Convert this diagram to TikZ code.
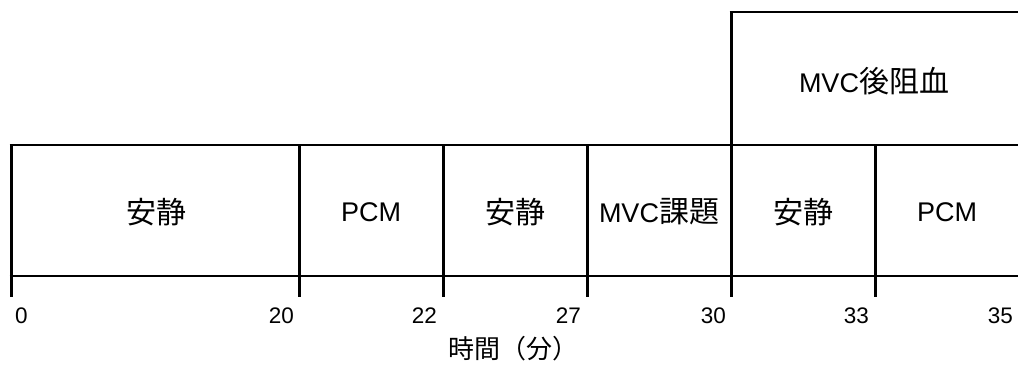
\documentclass[tikz,border=0pt]{standalone}
\usepackage{fontspec}
\setmainfont{Liberation Sans}
\newfontfamily\cjk{Noto Sans CJK JP}
\begin{document}
\begin{tikzpicture}[x=1pt,y=-1pt,
  hrule/.style={line width=2.6pt},
  vrule/.style={line width=3pt},
  thinrule/.style={line width=2.2pt},
  lab/.style={font=\fontsize{27}{32}\selectfont, inner sep=0pt},
  num/.style={font=\fontsize{22.5}{26}\selectfont, inner sep=0pt},
  axislab/.style={font=\fontsize{26}{28}\selectfont\cjk, inner sep=0pt}]
\useasboundingbox (0,0) rectangle (1018,365);
% coordinates
\foreach \n/\x in {t0/11,t20/299,t22/443,t27/587,t30/731,t33/875}{
  \coordinate (\n top) at (\x,145);
  \coordinate (\n bot) at (\x,297);
}
\coordinate (L1) at (9.5,145);  \coordinate (R1) at (1018,145);
\coordinate (L2) at (9.5,276);  \coordinate (R2) at (1018,276);
\coordinate (mvcTL) at (731,12); \coordinate (mvcTR) at (1018,12);
% main band
\draw[hrule] (L1) -- (R1);
\draw[hrule] (L2) -- (R2);
\foreach \n in {t0,t20,t22,t27,t30,t33}{
  \draw[vrule] (\n top) -- (\n bot);
}
% MVC block
\draw[vrule] (t30top) -- (mvcTL);
\draw[thinrule] ([xshift=-1.5pt]mvcTL) -- (mvcTR);
% labels
\node[lab] (s1) at (156,212) {\fontsize{30}{32}\selectfont\cjk 安静};
\node[lab] (s2) at (371,212) {PCM};
\node[lab] (s3) at (515,212) {\fontsize{30}{32}\selectfont\cjk 安静};
\node[lab] (s4) at (659,212) {MVC{\fontsize{30}{32}\selectfont\cjk 課題}};
\node[lab] (s5) at (803,212) {\fontsize{30}{32}\selectfont\cjk 安静};
\node[lab] (s6) at (947,212) {PCM};
\node[lab] (mvc) at (874,81) {MVC{\fontsize{30}{32}\selectfont\cjk 後阻血}};
% numbers
\node[num,anchor=west] (n0) at (15,316) {0};
\node[num,anchor=east] (n20) at (294,316) {20};
\node[num,anchor=east] (n22) at (437,316) {22};
\node[num,anchor=east] (n27) at (581,316) {27};
\node[num,anchor=east] (n30) at (726,316) {30};
\node[num,anchor=east] (n33) at (869,316) {33};
\node[num,anchor=east] (n35) at (1013,316) {35};
\node[axislab] (axis) at (513,349) {時間（分）};
\end{tikzpicture}
\end{document}
